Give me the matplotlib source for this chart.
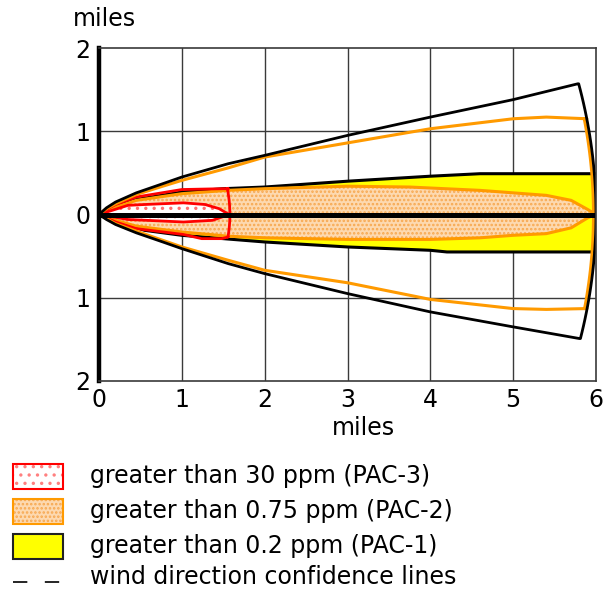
import numpy as np
import matplotlib
matplotlib.use("Agg")
import matplotlib.pyplot as plt
from matplotlib.patches import Polygon, Rectangle
from matplotlib.lines import Line2D

plt.rcParams['font.family'] = ['DejaVu Sans']
plt.rcParams['hatch.linewidth'] = 1.2

# ---- threat zone footprints (miles downwind, miles crosswind) ----
R_MAX = 6.0          # maximum downwind distance of the footprint
R_PAC3 = 1.58        # downwind extent of the PAC-3 zone

# wind direction confidence lines (PAC-1)
conf_x_up = [0, 0.09, 0.2, 0.45, 0.77, 1.0, 1.56, 2.0, 3.0, 4.0, 5.0, 5.78]
conf_y_up = [0, 0.08, 0.15, 0.26, 0.37, 0.45, 0.61, 0.71, 0.95, 1.17, 1.38, 1.57]
conf_x_lo = [0, 0.09, 0.2, 0.45, 0.77, 1.0, 1.56, 2.0, 3.0, 4.0, 5.0, 5.80]
conf_y_lo = [0, -0.06, -0.12, -0.22, -0.33, -0.41, -0.59, -0.71, -0.95, -1.17, -1.35, -1.49]

# confidence lines for PAC-2
conf2_x_up = [0, 0.09, 0.2, 0.45, 0.77, 1.0, 1.56, 2.0, 3.0, 4.0, 5.0, 5.4, 5.89]
conf2_y_up = [0, 0.07, 0.13, 0.24, 0.34, 0.41, 0.56, 0.69, 0.86, 1.03, 1.15, 1.17, 1.15]
conf2_x_lo = [0, 0.09, 0.2, 0.45, 0.77, 1.0, 1.56, 2.0, 3.0, 4.0, 5.0, 5.4, 5.89]
conf2_y_lo = [0, -0.05, -0.11, -0.20, -0.31, -0.39, -0.55, -0.67, -0.82, -1.02, -1.13, -1.14, -1.13]

# confidence lines for PAC-3
conf3_x_up = [0, 0.09, 0.2, 0.45, 1.0, 1.49, 1.56]
conf3_y_up = [0, 0.06, 0.12, 0.21, 0.30, 0.31, 0.31]
conf3_x_lo = [0, 0.09, 0.2, 0.45, 1.02, 1.24, 1.48, 1.56]
conf3_y_lo = [0, -0.04, -0.09, -0.17, -0.24, -0.29, -0.29, -0.27]

# PAC-1 zone (> 0.2 ppm)
pac1_x_up = [0, 0.2, 0.45, 1.0, 1.5, 2.0, 3.0, 4.0, 4.6, 5.98]
pac1_y_up = [0, 0.10, 0.18, 0.27, 0.31, 0.33, 0.40, 0.46, 0.49, 0.49]
pac1_x_lo = [0, 0.2, 0.55, 1.0, 1.5, 2.0, 3.0, 4.0, 4.2, 5.98]
pac1_y_lo = [0, -0.08, -0.19, -0.25, -0.29, -0.33, -0.39, -0.43, -0.45, -0.45]

# PAC-2 zone (> 0.75 ppm)
pac2_x_up = [0, 0.2, 0.45, 1.0, 1.55, 2.0, 3.0, 3.75, 4.6, 5.0, 5.4, 5.7, 5.9, 6.0]
pac2_y_up = [0, 0.09, 0.17, 0.25, 0.29, 0.31, 0.34, 0.33, 0.29, 0.26, 0.23, 0.17, 0.06, 0]
pac2_x_lo = [0, 0.2, 0.45, 1.0, 1.55, 2.0, 3.0, 4.0, 4.6, 5.0, 5.4, 5.7, 5.9, 6.0]
pac2_y_lo = [0, -0.07, -0.14, -0.21, -0.26, -0.28, -0.30, -0.30, -0.28, -0.25, -0.23, -0.16, -0.04, 0]

# PAC-3 zone (> 30 ppm)
pac3_x_up = [0, 0.35, 0.55, 1.02, 1.28, 1.45, 1.57]
pac3_y_up = [0, 0.11, 0.12, 0.14, 0.12, 0.07, 0]
pac3_x_lo = [0, 0.35, 1.02, 1.37, 1.57]
pac3_y_lo = [0, -0.06, -0.09, -0.07, 0]

x_ticks = [0, 1, 2, 3, 4, 5, 6]
y_ticks = [-2, -1, 0, 1, 2]
y_tick_labels = ['2', '1', '0', '1', '2']

legend_labels = ['greater than 30 ppm (PAC-3)',
                 'greater than 0.75 ppm (PAC-2)',
                 'greater than 0.2 ppm (PAC-1)',
                 'wind direction confidence lines']

YELLOW = '#ffff00'
ORANGE = '#ff9a00'
RED = '#ff0000'
PEACH = '#fdd9b0'
PEACH_DOT = '#f7a850'
FS = 17


def arc_points(r, y_start, y_end, n=40):
    a0 = np.arcsin(np.clip(y_start / r, -1, 1))
    a1 = np.arcsin(np.clip(y_end / r, -1, 1))
    a = np.linspace(a0, a1, n)
    return np.column_stack([r * np.cos(a), r * np.sin(a)])


def outline(xu, yu, xl, yl, r=None):
    up = np.column_stack([xu, yu])
    lo = np.column_stack([xl, yl])[::-1]
    if r is None:
        return np.vstack([up, lo])
    return np.vstack([up, arc_points(r, yu[-1], yl[-1]), lo])


fig = plt.figure(figsize=(6.05, 5.92), dpi=100)
ax = fig.add_axes([99 / 605, 1 - 381 / 592, 497 / 605, 333 / 592])
ax.set_xlim(0, 6)
ax.set_ylim(-2, 2)

for v in x_ticks[1:-1]:
    ax.axvline(v, color='#3a3a3a', lw=1.0, zorder=1)
for v in [-1, 1]:
    ax.axhline(v, color='#3a3a3a', lw=1.0, zorder=1)

# PAC-1 footprint
p1 = outline(pac1_x_up, pac1_y_up, pac1_x_lo, pac1_y_lo)
ax.add_patch(Polygon(p1, closed=True, facecolor=YELLOW, edgecolor='none', zorder=2))
ax.plot(pac1_x_up, pac1_y_up, color='black', lw=2.2, zorder=3)
ax.plot(pac1_x_lo, pac1_y_lo, color='black', lw=2.2, zorder=3)

# PAC-2 footprint
p2 = outline(pac2_x_up, pac2_y_up, pac2_x_lo, pac2_y_lo)
ax.add_patch(Polygon(p2, closed=True, facecolor=PEACH, edgecolor=PEACH_DOT,
                     hatch='....', lw=0, zorder=4))
ax.add_patch(Polygon(p2, closed=True, facecolor='none', edgecolor=ORANGE, lw=2.2, zorder=5))

# PAC-3 footprint
p3 = outline(pac3_x_up, pac3_y_up, pac3_x_lo, pac3_y_lo)
ax.add_patch(Polygon(p3, closed=True, facecolor='white', edgecolor='#ff7070',
                     hatch='..', lw=0, zorder=6))
ax.add_patch(Polygon(p3, closed=True, facecolor='none', edgecolor=RED, lw=2.0, zorder=7))

# confidence lines
c3 = outline(conf3_x_up, conf3_y_up, conf3_x_lo, conf3_y_lo, R_PAC3)
ax.plot(c3[:, 0], c3[:, 1], color=RED, lw=2.0, zorder=7)
c2 = outline(conf2_x_up, conf2_y_up, conf2_x_lo, conf2_y_lo, R_MAX - 0.03)
ax.plot(c2[:, 0], c2[:, 1], color=ORANGE, lw=2.2, zorder=8)
c1 = outline(conf_x_up, conf_y_up, conf_x_lo, conf_y_lo, R_MAX)
ax.plot(c1[:, 0], c1[:, 1], color='black', lw=2.0, zorder=9)

# downwind centreline
ax.axhline(0, color='black', lw=3.6, zorder=10)

for side in ['top', 'right', 'bottom']:
    ax.spines[side].set_color('#3a3a3a')
    ax.spines[side].set_linewidth(1.2)
ax.spines['left'].set_color('black')
ax.spines['left'].set_linewidth(3.2)
for s in ax.spines.values():
    s.set_zorder(11)

ax.set_xticks(x_ticks)
ax.set_yticks(y_ticks)
ax.set_yticklabels(y_tick_labels)
ax.tick_params(length=0, labelsize=FS)
ax.tick_params(axis='y', pad=6)
ax.tick_params(axis='x', pad=5)

fig.text(104 / 605, 1 - 19 / 592, 'miles', fontsize=FS, ha='center', va='center')
fig.text(363 / 605, 1 - 428 / 592, 'miles', fontsize=FS, ha='center', va='center')

# legend
fx = lambda px: px / 605
fy = lambda py: 1 - py / 592
w, h = fx(63) - fx(13), 25 / 592
fig.patches.append(Rectangle((fx(13), fy(489)), w, h, transform=fig.transFigure,
                             facecolor='white', edgecolor='#ff8080', hatch='..', lw=0))
fig.patches.append(Rectangle((fx(13), fy(489)), w, h, transform=fig.transFigure,
                             facecolor='none', edgecolor=RED, lw=1.5))
fig.patches.append(Rectangle((fx(13), fy(524)), w, h, transform=fig.transFigure,
                             facecolor=PEACH, edgecolor=PEACH_DOT, hatch='....', lw=0))
fig.patches.append(Rectangle((fx(13), fy(524)), w, h, transform=fig.transFigure,
                             facecolor='none', edgecolor=ORANGE, lw=1.5))
fig.patches.append(Rectangle((fx(13), fy(559)), w, h, transform=fig.transFigure,
                             facecolor=YELLOW, edgecolor='#222222', lw=1.5))
fig.lines.append(Line2D([fx(13), fx(63)], [fy(582), fy(582)], transform=fig.transFigure,
                        color='black', lw=1.2, dashes=(8.6, 10.5)))

for label, yc in zip(legend_labels, [476, 511, 546, 577]):
    fig.text(fx(90), fy(yc), label, fontsize=FS, ha='left', va='center')

fig.savefig('out.png', dpi=100)
